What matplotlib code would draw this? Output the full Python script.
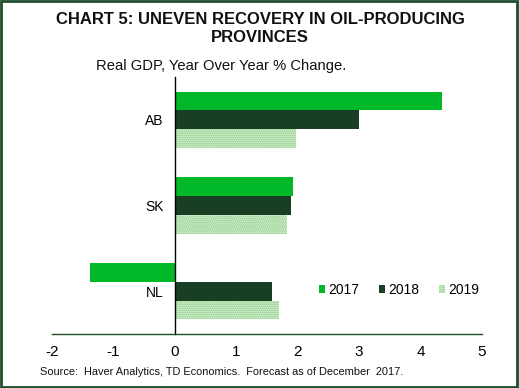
import matplotlib
matplotlib.use("Agg")
import matplotlib.pyplot as plt
from matplotlib.patches import Rectangle, Patch
import numpy as np

plt.rcParams['font.family'] = ['Liberation Sans', 'DejaVu Sans']
plt.rcParams['hatch.linewidth'] = 0.8

provinces = ['AB', 'SK', 'NL']
years = ['2017', '2018', '2019']
v2017 = [4.35, 1.92, -1.38]
v2018 = [3.0, 1.89, 1.58]
v2019 = [1.97, 1.82, 1.70]
xticks = [-2, -1, 0, 1, 2, 3, 4, 5]

c2017 = '#00b828'
c2018 = '#183e24'
c2019_face = '#d2edce'
c2019_hatch = '#86cc80'

fig = plt.figure(figsize=(5.19, 3.88), dpi=100)
ax = fig.add_axes([52/519, 1-334/388, (482-52)/519, (334-77)/388])

y = np.arange(len(provinces))
h = 0.218
ax.barh(y - h, v2017, height=h, color=c2017, linewidth=0)
ax.barh(y, v2018, height=h, color=c2018, linewidth=0)
ax.barh(y + h, v2019, height=h, facecolor=c2019_face, edgecolor=c2019_hatch, hatch='........', linewidth=0)

ax.set_xlim(-2, 5)
ax.set_ylim(2.5, -0.5)
ax.set_xticks(xticks)
ax.set_xticklabels([str(t) for t in xticks], fontsize=11)
ax.set_yticks(y)
ax.set_yticklabels(provinces, fontsize=11)
ax.tick_params(axis='both', length=0)
ax.tick_params(axis='x', pad=8)
ax.tick_params(axis='y', pad=8)
for s in ['top', 'right']:
    ax.spines[s].set_visible(False)
ax.spines['left'].set_position(('data', 0))
ax.spines['left'].set_color('black')
ax.spines['left'].set_linewidth(1)
ax.spines['bottom'].set_color('#1f4d2b')
ax.spines['bottom'].set_linewidth(1)

handles = [Patch(facecolor=c2017, linewidth=0),
           Patch(facecolor=c2018, linewidth=0),
           Patch(facecolor=c2019_face, edgecolor=c2019_hatch, hatch='........', linewidth=0)]
leg = ax.legend(handles, years, loc='center', bbox_to_anchor=(399/519, 1-290/388),
                bbox_transform=fig.transFigure, ncol=3, frameon=False, fontsize=10,
                handlelength=0.45, handleheight=0.45, handletextpad=0.25, columnspacing=1.4)

fig.text(260/519, 1-19/388, 'CHART 5: UNEVEN RECOVERY IN OIL-PRODUCING', ha='center', va='center',
         fontsize=12, fontweight='bold', color='#111111')
fig.text(260/519, 1-37/388, 'PROVINCES', ha='center', va='center',
         fontsize=12, fontweight='bold', color='#111111')
fig.text(96/519, 1-66/388, 'Real GDP, Year Over Year % Change.', ha='left', va='center',
         fontsize=10.6, color='#111111')
fig.text(40/519, 1-372/388, 'Source:  Haver Analytics, TD Economics.  Forecast as of December  2017.',
         ha='left', va='center', fontsize=7.9, color='#111111')

fig.patches.append(Rectangle((0.002, 0.003), 0.995, 0.994, transform=fig.transFigure,
                             fill=False, edgecolor='#1f4d2b', linewidth=2))

fig.savefig('out.png', dpi=100)
